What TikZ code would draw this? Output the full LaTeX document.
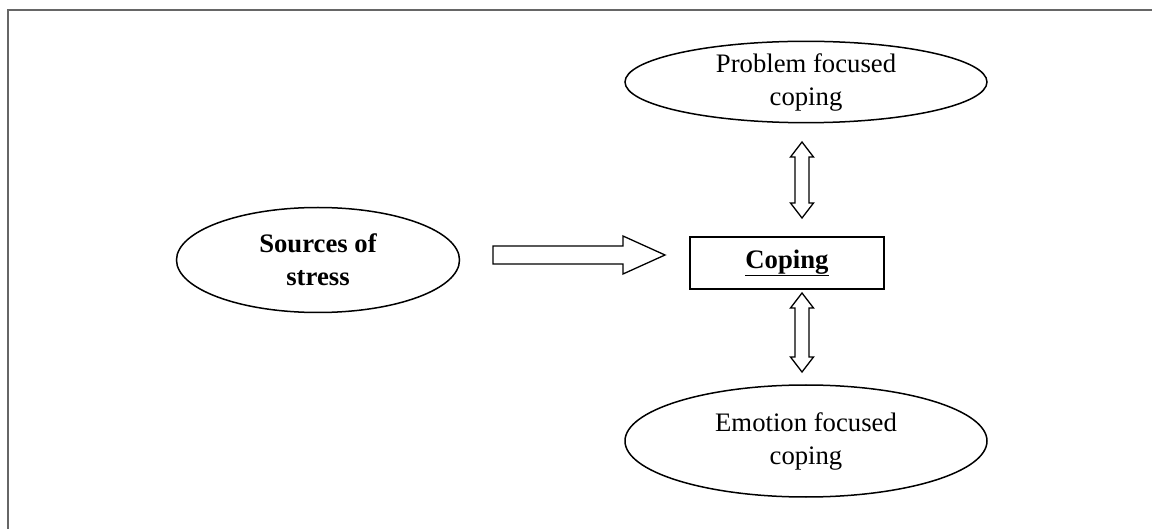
\documentclass[tikz,border=0pt]{standalone}
\usepackage{fontspec}
\setmainfont{Liberation Serif}
\usetikzlibrary{shapes.geometric}
\begin{document}
\begin{tikzpicture}[x=1pt,y=-1pt,
  oval/.style={draw=black,line width=1.5pt,ellipse,inner sep=0pt,align=center,
    font=\fontsize{26.7}{33}\selectfont},
  boxnode/.style={draw=black,line width=1.5pt,rectangle,inner sep=0pt,
    font=\fontsize{26.7}{33}\selectfont\bfseries},
  blockarrow/.style={draw=black,line width=1.3pt,fill=white,line join=miter},
  frameline/.style={draw=black!60,line width=2pt}]
\useasboundingbox (0,0) rectangle (1152,529);
\draw[frameline] (8,530) -- (8,10) -- (1153,10);
\node[oval,minimum width=283pt,minimum height=105pt] (src) at (318,260)
  {\bfseries Sources of\\\bfseries stress};
\node[boxnode,minimum width=194pt,minimum height=52pt] (cop) at (787,263)
  {\underline{Coping}};
\node[oval,minimum width=362pt,minimum height=72pt] (pfc) at (806,82)
  {Problem focused\\coping};
\node[oval,minimum width=362pt,minimum height=112pt] (efc) at (806,441)
  {Emotion focused\\coping};
% right block arrow
\draw[blockarrow] (493,246) -- (623,246) -- (623,236) -- (665,255) -- (623,274)
  -- (623,264) -- (493,264) -- cycle;
% top double arrow
\draw[blockarrow] (802,142) -- (813.5,157) -- (809,157) -- (809,203) -- (813.5,203)
  -- (802,218) -- (790.5,203) -- (795,203) -- (795,157) -- (790.5,157) -- cycle;
% bottom double arrow
\draw[blockarrow] (802,293) -- (813.5,308) -- (809,308) -- (809,357) -- (813.5,357)
  -- (802,372) -- (790.5,357) -- (795,357) -- (795,308) -- (790.5,308) -- cycle;
\end{tikzpicture}
\end{document}
